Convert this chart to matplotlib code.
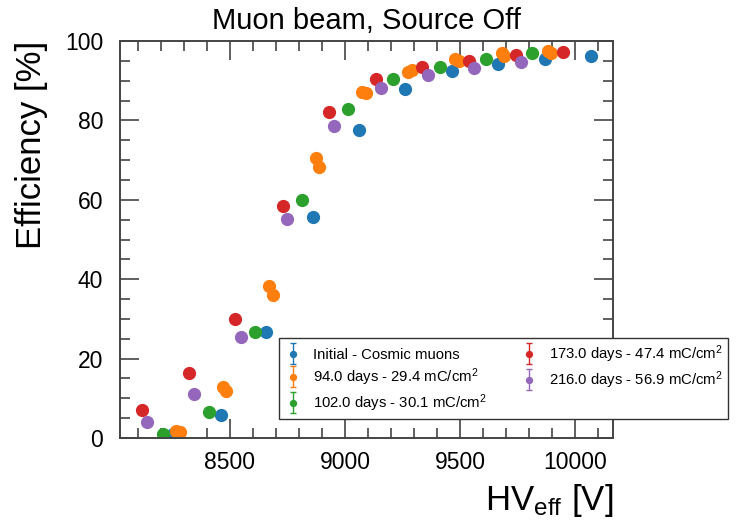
import numpy as np
import matplotlib
matplotlib.use("Agg")
import matplotlib.pyplot as plt
from matplotlib.ticker import MultipleLocator
from matplotlib.legend_handler import HandlerErrorbar
from matplotlib.container import ErrorbarContainer

plt.rcParams["font.family"] = ["Liberation Sans", "DejaVu Sans"]
plt.rcParams["mathtext.fontset"] = "custom"
plt.rcParams["mathtext.rm"] = "Liberation Sans"
plt.rcParams["mathtext.it"] = "Liberation Sans:italic"

# =========================
# Data
# =========================
labels = [
    "Initial - Cosmic muons",
    "94.0 days - 29.4 mC/cm$^2$",
    "102.0 days - 30.1 mC/cm$^2$",
    "173.0 days - 47.4 mC/cm$^2$",
    "216.0 days - 56.9 mC/cm$^2$",
]
colors = ["#1f77b4", "#ff7f0e", "#2ca02c", "#d62728", "#9467bd"]

hv_initial = [8252, 8461, 8657, 8861, 9061, 9261, 9465, 9665, 9870, 10070]
eff_initial = [1.0, 5.8, 26.7, 55.7, 77.6, 87.9, 92.4, 94.2, 95.5, 96.2]

hv_94 = [8265, 8283, 8470, 8483, 8670, 8687, 8874, 8887, 9074, 9091,
         9274, 9291, 9478, 9496, 9683, 9691, 9883, 9896]
eff_94 = [1.8, 1.5, 12.8, 11.8, 38.3, 36.0, 70.5, 68.3, 87.2, 86.9,
          92.2, 92.7, 95.5, 95.0, 97.0, 96.2, 97.5, 97.0]

hv_102 = [8209, 8409, 8609, 8813, 9013, 9209, 9413, 9613, 9813]
eff_102 = [1.0, 6.6, 26.7, 60.0, 82.9, 90.4, 93.5, 95.5, 97.0]

hv_173 = [8117, 8322, 8522, 8730, 8930, 9135, 9335, 9539, 9743, 9948]
eff_173 = [7.1, 16.4, 30.0, 58.4, 82.1, 90.4, 93.5, 95.0, 96.5, 97.2]

hv_216 = [8139, 8343, 8548, 8748, 8952, 9157, 9361, 9561, 9765]
eff_216 = [4.0, 11.1, 25.4, 55.2, 78.6, 88.2, 91.4, 93.2, 94.7]

series = [
    (hv_initial, eff_initial),
    (hv_94, eff_94),
    (hv_102, eff_102),
    (hv_173, eff_173),
    (hv_216, eff_216),
]

x_ticks = [8500, 9000, 9500, 10000]
y_ticks = [0, 20, 40, 60, 80, 100]

# =========================
# Plot
# =========================
fig = plt.figure(figsize=(7.37, 5.23), dpi=100)
ax = fig.add_axes([0.1628, 0.1625, 0.669, 0.759])

for (hv, eff), lab, col in zip(series, labels, colors):
    ax.errorbar(hv, eff, yerr=np.zeros(len(eff)), fmt="o", ms=8.5,
                color=col, capsize=2.5, elinewidth=1, label=lab)

ax.set_xlim(8022, 10165)
ax.set_ylim(0, 100)
ax.set_xticks(x_ticks)
ax.set_yticks(y_ticks)
ax.xaxis.set_minor_locator(MultipleLocator(100))
ax.yaxis.set_minor_locator(MultipleLocator(5))

spine_col = "#444444"
for s in ax.spines.values():
    s.set_color(spine_col)
    s.set_linewidth(1.4)

ax.tick_params(which="both", direction="in", top=True, right=True,
               color=spine_col, width=1.2, labelsize=16.5)
ax.tick_params(which="major", length=13.5)
ax.tick_params(which="minor", length=7)
ax.tick_params(axis="y", pad=12)
ax.tick_params(axis="x", pad=9)

ax.set_title("Muon beam, Source Off", fontsize=21, pad=9)
ax.set_ylabel("Efficiency [%]", fontsize=25, loc="top", labelpad=12)
ax.set_xlabel(r"HV$_{\mathrm{eff}}$ [V]", fontsize=25, loc="right", labelpad=6)

ax.legend(
    ncol=2,
    loc="upper left",
    bbox_to_anchor=(0.3786, 0.3537),
    bbox_transform=fig.transFigure,
    borderaxespad=0,
    fontsize=10.7,
    markerscale=0.5,
    handlelength=1.2,
    handletextpad=0.75,
    columnspacing=2.25,
    labelspacing=0.3,
    borderpad=0.35,
    fancybox=False,
    framealpha=1,
    edgecolor="#333333",
    handler_map={ErrorbarContainer: HandlerErrorbar(yerr_size=0.7)},
)

fig.savefig("out.png", dpi=100)
